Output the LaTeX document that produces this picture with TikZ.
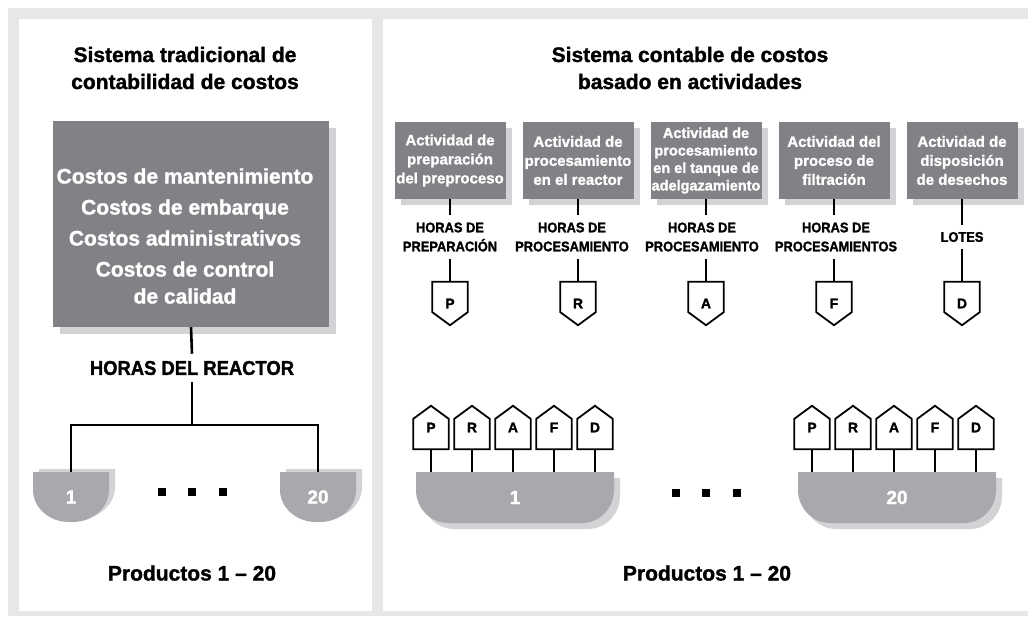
\documentclass[tikz,border=0pt]{standalone}
\usepackage{fontspec}
\setmainfont{Liberation Sans}[BoldFeatures={FakeBold=1.4}]
\newfontfamily\angosta{Liberation Sans}[FakeStretch=0.92, BoldFeatures={FakeBold=1.4}]
\usetikzlibrary{shadows}

\definecolor{fondo}{HTML}{E6E7E8}
\definecolor{grisoscuro}{HTML}{808285}
\definecolor{grismedio}{HTML}{A7A9AC}
\definecolor{sombra}{HTML}{D1D3D4}

\tikzset{
  titulo/.style={font=\fontsize{21}{27}\selectfont\bfseries, align=center},
  caja/.style={fill=grisoscuro, text=white, align=center, inner sep=0pt,
    drop shadow={fill=sombra, opacity=1, shadow xshift=#1, shadow yshift=-#1}},
  caja/.default=6pt,
  actividad/.style={caja, minimum width=111pt, minimum height=77pt,
    font=\fontsize{15}{19}\selectfont\bfseries},
  medida/.style={font=\angosta\fontsize{14}{19}\selectfont\bfseries, align=center, inner sep=7pt},
  conector/.style={line width=2.6pt},
  contorno/.style={line width=1.8pt, line join=miter},
  letra/.style={minimum width=35pt, minimum height=43pt, inner sep=0pt,
    font=\fontsize{14}{14}\selectfont\bfseries},
  numero/.style={text=white, font=\fontsize{19}{19}\selectfont\bfseries, inner sep=0pt},
  punto/.style={fill=black, minimum size=8pt, inner sep=0pt},
  % ancho, alto, radio horizontal, radio vertical
  pics/cuenco/.style n args={4}{code={
    \path[pic actions] (-#1/2,-#2/2) -- (-#1/2,#2/2-#4)
      .. controls (-#1/2,#2/2-0.45*#4) and (-#1/2+0.45*#3,#2/2) .. (-#1/2+#3,#2/2)
      -- (#1/2-#3,#2/2)
      .. controls (#1/2-0.45*#3,#2/2) and (#1/2,#2/2-0.45*#4) .. (#1/2,#2/2-#4)
      -- (#1/2,-#2/2) -- cycle;
  }},
}

\begin{document}
\begin{tikzpicture}[x=1pt, y=-1pt]
\useasboundingbox (0,0) rectangle (1028,616);
\fill[white] (0,0) rectangle (1028,616);
\fill[fondo] (8,8) rectangle (1028,616);
\fill[white] (19,19) rectangle (372,611);
\fill[white] (383,19) rectangle (1028,611);

% sistema tradicional
\node[titulo] (tituloTrad) at (185,68) {Sistema tradicional de\\contabilidad de costos};
\node[caja=7pt, minimum width=276pt, minimum height=206pt] (costos) at (191,224) {};
\node[text=white, align=center, font=\fontsize{21}{27}\selectfont\bfseries] (listaCostos) at (185,236)
  {Costos de mantenimiento\\[4pt]Costos de embarque\\[4pt]Costos administrativos\\[4pt]Costos de control\\de calidad};
\node[font=\angosta\fontsize{20}{20}\selectfont\bfseries, inner sep=7pt] (horasReactor) at (192,368) {HORAS DEL REACTOR};
\coordinate (rama) at (192,425);

\pic[fill=sombra] at (77,494) {cuenco={76}{50}{36}{32}};
\pic[fill=grismedio] at (71,497) {cuenco={76}{50}{36}{32}};
\node[numero, minimum width=76pt, minimum height=50pt] (prodI1) at (71,497) {1};
\pic[fill=sombra] at (324,494) {cuenco={76}{50}{36}{32}};
\pic[fill=grismedio] at (318,497) {cuenco={76}{50}{36}{32}};
\node[numero, minimum width=76pt, minimum height=50pt] (prodI20) at (318,497) {20};

\draw[conector] (costos.south) -- (horasReactor.north);
\draw[conector] (horasReactor.south) -- (rama);
\draw[conector] (prodI1.north) |- (rama) -| (prodI20.north);

\node[punto] (puntoI1) at (162,492) {};
\node[punto] (puntoI2) at (192,492) {};
\node[punto] (puntoI3) at (223,492) {};
\node[titulo] (productosIzq) at (192,573) {Productos 1 -- 20};

% sistema ABC
\node[titulo] (tituloABC) at (690,68) {Sistema contable de costos\\basado en actividades};

\node[actividad] (actP) at (450,160.5) {Actividad de\\preparación\\del preproceso};
\node[actividad] (actR) at (578,160.5) {Actividad de\\procesamiento\\en el reactor};
\node[actividad, font=\fontsize{14.5}{17.5}\selectfont\bfseries] (actA) at (706,160.5)
  {Actividad de\\procesamiento\\en el tanque de\\adelgazamiento};
\node[actividad] (actF) at (834,160.5) {Actividad del\\proceso de\\filtración};
\node[actividad] (actD) at (962,160.5) {Actividad de\\disposición\\de desechos};

\node[medida] (medP) at (450,237) {HORAS DE\\PREPARACIÓN};
\node[medida] (medR) at (572,237) {HORAS DE\\PROCESAMIENTO};
\node[medida] (medA) at (702,237) {HORAS DE\\PROCESAMIENTO};
\node[medida] (medF) at (836,237) {HORAS DE\\PROCESAMIENTOS};
\node[medida] (medD) at (962,237) {LOTES};

\node[letra] (tagP) at (450,303.5) {P};
\node[letra] (tagR) at (578,303.5) {R};
\node[letra] (tagA) at (706,303.5) {A};
\node[letra] (tagF) at (834,303.5) {F};
\node[letra] (tagD) at (962,303.5) {D};

\foreach \a in {P,R,A,F,D} {
  \draw[contorno] (tag\a.north west) -- (tag\a.north east) -- ([yshift=13pt]tag\a.south east)
    -- (tag\a.south) -- ([yshift=13pt]tag\a.south west) -- cycle;
  \draw[conector] (act\a.south) -- (act\a.south |- med\a.north);
  \draw[conector] (act\a.south |- med\a.south) -- (tag\a.north);
}

\pic[fill=sombra] at (521,503.5) {cuenco={198}{51}{32}{33}};
\pic[fill=grismedio] at (515,497.5) {cuenco={198}{51}{32}{33}};
\node[numero, minimum width=198pt, minimum height=51pt] (prodA1) at (515,497.5) {1};
\pic[fill=sombra] at (903,503.5) {cuenco={198}{51}{32}{33}};
\pic[fill=grismedio] at (897,497.5) {cuenco={198}{51}{32}{33}};
\node[numero, minimum width=198pt, minimum height=51pt] (prodA20) at (897,497.5) {20};

\foreach \a [count=\i] in {P,R,A,F,D} {
  \node[letra] (tagI\a) at (390+41*\i,427.5) {\a};
  \node[letra] (tagD\a) at (771+41*\i,427.5) {\a};
  \foreach \t in {tagI\a,tagD\a}
    \draw[contorno] (\t.south west) -- (\t.south east) -- ([yshift=-13pt]\t.north east)
      -- (\t.north) -- ([yshift=-13pt]\t.north west) -- cycle;
  \draw[conector] (tagI\a.south) -- (tagI\a.south |- prodA1.north);
  \draw[conector] (tagD\a.south) -- (tagD\a.south |- prodA20.north);
}

\node[punto] (puntoD1) at (676,493) {};
\node[punto] (puntoD2) at (706,493) {};
\node[punto] (puntoD3) at (737,493) {};
\node[titulo] (productosDer) at (707,573) {Productos 1 -- 20};
\end{tikzpicture}
\end{document}
